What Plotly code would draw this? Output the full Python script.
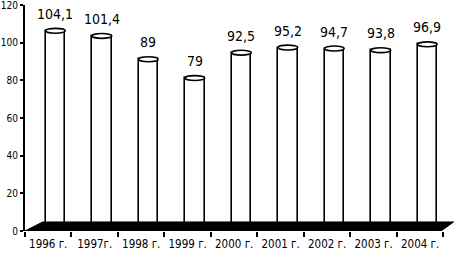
import plotly.graph_objects as go

years = ["1996 г.", "1997г.", "1998 г.", "1999 г.", "2000 г.", "2001 г.", "2002 г.", "2003 г.", "2004 г."]
values = [104.1, 101.4, 89, 79, 92.5, 95.2, 94.7, 93.8, 96.9]
value_labels = ["104,1", "101,4", "89", "79", "92,5", "95,2", "94,7", "93,8", "96,9"]
y_ticks = [0, 20, 40, 60, 80, 100, 120]

FONT = "DejaVu Sans Condensed, Liberation Sans Narrow, Arial Narrow, sans-serif"
idx = list(range(len(years)))
BAR_W = 0.42
BAR_OFF = -0.055
BASE = 2.2
FLOOR_H = 4.8

fig = go.Figure()

# floor slab
fig.add_trace(go.Scatter(
    x=[-0.5, -0.12, 8.72, 8.45, -0.5],
    y=[0, FLOOR_H, FLOOR_H, 0, 0],
    fill="toself", fillcolor="black", mode="lines",
    line=dict(color="black", width=1), hoverinfo="skip", showlegend=False))

fig.add_trace(go.Bar(
    x=idx, y=values, base=BASE, width=BAR_W, offset=BAR_OFF,
    marker=dict(color="white", line=dict(color="black", width=1.6)),
    showlegend=False))

shapes = []
annotations = []
for i, v, t in zip(idx, values, value_labels):
    x0 = i + BAR_OFF
    x1 = x0 + BAR_W
    top = v + BASE
    shapes.append(dict(type="circle", xref="x", yref="y",
                       x0=x0, x1=x1, y0=top - 1.3, y1=top + 1.3,
                       fillcolor="white", line=dict(color="black", width=1.6)))
    annotations.append(dict(x=(x0 + x1) / 2, y=top, text=t, showarrow=False,
                            yshift=17, yanchor="middle",
                            font=dict(family=FONT, size=14, color="black")))

fig.update_layout(
    width=457, height=257,
    margin=dict(l=25, r=2, t=5, b=26),
    paper_bgcolor="white", plot_bgcolor="white",
    shapes=shapes, annotations=annotations,
    bargap=0,
    font=dict(family=FONT, color="black", size=11),
)
fig.update_xaxes(
    range=[-0.5, 8.75], tickmode="array", tickvals=idx, ticktext=years,
    ticks="", showgrid=False, zeroline=False, showline=False,
    automargin=False, ticklabelstandoff=4,
    tickfont=dict(family=FONT, size=11.5, color="black"),
    minor=dict(tickmode="array", tickvals=[i - 0.5 for i in range(len(years) + 1)],
               ticks="outside", ticklen=5, tickwidth=1.5, tickcolor="black"),
)
fig.update_yaxes(
    range=[0, 120], tickmode="array", tickvals=y_ticks,
    ticks="outside", ticklen=3, tickwidth=1.5, tickcolor="black",
    showline=True, linewidth=2, linecolor="black",
    showgrid=False, zeroline=False, automargin=False,
    ticklabeloverflow="allow", ticklabelstandoff=0,
    tickfont=dict(family=FONT, size=10, color="black"),
)

fig.write_html("out.html", config={"displayModeBar": False},
               post_script="document.body.style.margin='0';")
